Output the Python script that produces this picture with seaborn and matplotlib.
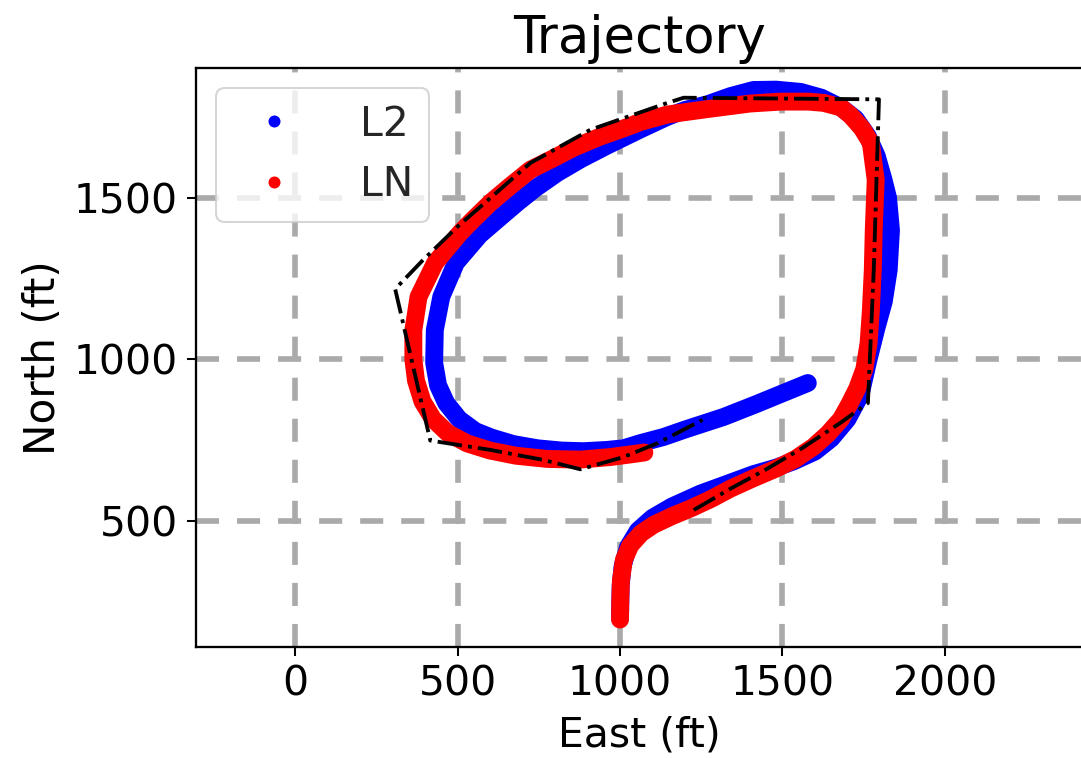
import matplotlib
matplotlib.use("Agg")
import matplotlib.pyplot as plt
from matplotlib.lines import Line2D
import seaborn as sns

# ---------------- data ----------------
l2_east = [1000, 1002, 1008, 1025, 1055, 1100, 1160, 1248, 1330, 1411, 1480, 1535,
           1600, 1650, 1700, 1740, 1765, 1790, 1812, 1827, 1834, 1825, 1810, 1790,
           1763, 1725, 1680, 1620, 1556, 1480, 1411, 1340, 1270, 1200, 1146, 1063,
           961, 880, 807, 740, 684, 620, 568, 495, 450, 430, 428, 440, 465, 505, 555,
           605, 672, 746, 820, 888, 960, 1011, 1063, 1134, 1200, 1319, 1420, 1500, 1578]
l2_north = [200, 300, 360, 420, 470, 510, 545, 585, 615, 645, 665, 685,
            715, 755, 815, 890, 1000, 1100, 1180, 1277, 1400, 1500, 1560, 1630,
            1690, 1745, 1780, 1810, 1828, 1835, 1834, 1815, 1790, 1772, 1751, 1712,
            1662, 1620, 1577, 1530, 1485, 1430, 1385, 1299, 1194, 1091, 990, 920, 865, 815, 778,
            758, 738, 725, 718, 716, 720, 725, 741, 760, 783, 822, 862, 895, 927]

ln_east = [1000, 1001, 1003, 1012, 1032, 1065, 1103, 1160, 1220, 1280, 1340, 1410,
           1480, 1540, 1596, 1640, 1680, 1705, 1730, 1752, 1765, 1772, 1778, 1781,
           1787, 1772, 1745, 1710, 1680, 1627, 1580, 1495, 1400, 1270, 1146, 1063,
           1011, 940, 857, 790, 724, 660, 601, 545, 508, 431, 380, 364, 364, 372,
           392, 425, 470, 530, 600, 680, 777, 878, 971, 1032, 1075]
ln_north = [195, 260, 317, 380, 425, 462, 488, 515, 540, 568, 600, 632,
            662, 692, 730, 770, 815, 860, 910, 970, 1050, 1150, 1277, 1401,
            1556, 1670, 1715, 1755, 1780, 1794, 1798, 1798, 1792, 1775, 1758, 1735,
            1715, 1690, 1655, 1620, 1587, 1535, 1485, 1430, 1392, 1299, 1194, 1091, 1000, 935,
            870, 815, 772, 740, 718, 702, 692, 690, 698, 706, 712]

ref_east = [1227, 1340, 1450, 1560, 1680, 1763, 1781, 1797, 1196, 1146, 909, 724,
            499, 394, 308, 416, 601, 764, 878, 1011, 1116, 1254]
ref_north = [534, 600, 660, 725, 805, 865, 1277, 1805, 1810, 1794, 1711, 1608,
             1410, 1308, 1218, 749, 720, 689, 660, 698, 741, 813]

series_labels = ["L2", "LN"]
series_colors = ["#0000ff", "#ff0000"]
x_ticks = [0, 500, 1000, 1500, 2000]
y_ticks = [500, 1000, 1500]

# ---------------- figure ----------------
sns.set_style("white")
plt.rcParams["font.family"] = ["DejaVu Sans"]
plt.rcParams["font.size"] = 16

DPI = 184
fig = plt.figure(figsize=(1081 / DPI, 758 / DPI), dpi=DPI)
ax = fig.add_axes([196 / 1081, 1 - 647 / 758, 887 / 1081, 579 / 758])

sns.lineplot(x=l2_east, y=l2_north, sort=False, estimator=None, ax=ax,
             color=series_colors[0], linewidth=7, solid_capstyle="round",
             solid_joinstyle="round", zorder=3)
sns.lineplot(x=ln_east, y=ln_north, sort=False, estimator=None, ax=ax,
             color=series_colors[1], linewidth=7, solid_capstyle="round",
             solid_joinstyle="round", zorder=4)
sns.lineplot(x=ref_east, y=ref_north, sort=False, estimator=None, ax=ax,
             color="black", linewidth=1.5, zorder=5)
ax.lines[-1].set_linestyle("-.")

ax.set_xlim(-305, 2425)
ax.set_ylim(110, 1902)
ax.set_xticks(x_ticks)
ax.set_yticks(y_ticks)

ax.grid(True, color="#aaaaaa", linewidth=2.2, linestyle=(0, (4.1, 3.2)))
ax.set_axisbelow(True)

for sp in ax.spines.values():
    sp.set_color("black")
    sp.set_linewidth(0.9)
ax.tick_params(axis="both", direction="out", length=3.5, width=0.8,
               color="black", labelsize=16, labelcolor="black", pad=3.5,
               bottom=True, left=True)

ax.set_xlabel("East (ft)", fontsize=16, color="black")
ax.set_ylabel("North (ft)", fontsize=16.5, color="black")
ax.set_title("Trajectory", fontsize=20, color="black", pad=6)

handles = [Line2D([0], [0], marker="o", linestyle="None", markersize=4.7,
                  color=c, markeredgewidth=0) for c in series_colors]
leg = ax.legend(handles, series_labels, loc="upper left", fontsize=16,
                handletextpad=1.1, framealpha=0.8, fancybox=True,
                edgecolor="0.8", borderaxespad=0.5)
leg.get_frame().set_linewidth(0.8)

fig.savefig("out.png", dpi=DPI)
